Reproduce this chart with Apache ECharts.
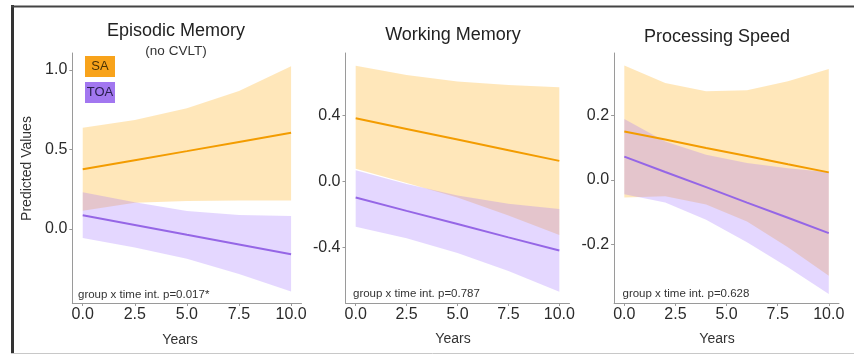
<!DOCTYPE html>
<html>
<head>
<meta charset="utf-8">
<script src="https://cdn.jsdelivr.net/npm/echarts@6/dist/echarts.min.js"></script>
<style>
html,body{margin:0;padding:0;background:#fff;}
#chart{width:854px;height:356px;}
</style>
</head>
<body>
<div id="chart"></div>
<script>
// ---------- data ----------
const panelTitles = ["Episodic Memory", "Working Memory", "Processing Speed"];
const panelSubtitle = "(no CVLT)";
const pValueLabels = ["group x time int. p=0.017*", "group x time int. p=0.787", "group x time int. p=0.628"];
const groups = ["SA", "TOA"];
const xTicks = [0, 2.5, 5, 7.5, 10];
const yTicksEpisodic = [0, 0.5, 1.0];
const yTicksWorking = [-0.4, 0, 0.4];
const yTicksSpeed = [-0.2, 0, 0.2];

// Episodic memory
const yearsEpisodic = [0, 2.5, 5, 7.5, 10];
const episodicSAFit = [0.376, 0.433, 0.490, 0.548, 0.606];
const episodicSAUpper = [0.637, 0.686, 0.760, 0.868, 1.024];
const episodicSALower = [0.115, 0.165, 0.176, 0.180, 0.180];
const episodicTOAFit = [0.087, 0.026, -0.036, -0.097, -0.159];
const episodicTOAUpper = [0.231, 0.168, 0.114, 0.088, 0.082];
const episodicTOALower = [-0.057, -0.116, -0.186, -0.282, -0.392];

// Working memory
const yearsWorking = [0, 2.5, 5, 7.5, 10];
const workingSAFit = [0.384, 0.319, 0.255, 0.190, 0.125];
const workingSAUpper = [0.704, 0.647, 0.607, 0.587, 0.573];
const workingSALower = [0.078, -0.009, -0.097, -0.207, -0.325];
const workingTOAFit = [-0.098, -0.179, -0.259, -0.340, -0.420];
const workingTOAUpper = [0.068, -0.015, -0.085, -0.135, -0.168];
const workingTOALower = [-0.275, -0.345, -0.435, -0.545, -0.670];

// Processing speed
const yearsSpeed = [0, 2, 4, 6, 8, 10];
const speedSAFit = [0.151, 0.126, 0.100, 0.075, 0.049, 0.024];
const speedSAUpper = [0.356, 0.302, 0.276, 0.279, 0.307, 0.345];
const speedSALower = [-0.054, -0.050, -0.076, -0.129, -0.209, -0.297];
const speedTOAFit = [0.073, 0.025, -0.022, -0.070, -0.117, -0.165];
const speedTOAUpper = [0.190, 0.120, 0.079, 0.053, 0.037, 0.024];
const speedTOALower = [-0.044, -0.070, -0.123, -0.193, -0.271, -0.354];

// ---------- styling ----------
const FONT = "'Liberation Sans', Arial, Helvetica, sans-serif";
const SA_LINE = '#F39C00';
const TOA_LINE = '#9566E6';
const SA_FILL = 'rgba(255,165,0,0.27)';
const TOA_FILL = 'rgba(157,107,255,0.27)';
const AXIS_COLOR = '#9a9a9a';
const TEXT_COLOR = '#2b2b2b';

const panels = [
  {years: yearsEpisodic, sa: [episodicSAFit, episodicSALower, episodicSAUpper], toa: [episodicTOAFit, episodicTOALower, episodicTOAUpper],
   yTicks: yTicksEpisodic, yMin: -0.465, yMax: 1.107, grid: {left: 72.3, top: 53, width: 229.2, height: 250}},
  {years: yearsWorking, sa: [workingSAFit, workingSALower, workingSAUpper], toa: [workingTOAFit, workingTOALower, workingTOAUpper],
   yTicks: yTicksWorking, yMin: -0.739, yMax: 0.781, grid: {left: 345.5, top: 53, width: 224, height: 250}},
  {years: yearsSpeed, sa: [speedSAFit, speedSALower, speedSAUpper], toa: [speedTOAFit, speedTOALower, speedTOAUpper],
   yTicks: yTicksSpeed, yMin: -0.382, yMax: 0.395, grid: {left: 614.1, top: 53, width: 224.9, height: 250}}
];

const grids = [], xAxes = [], yAxes = [], series = [];

function ribbonSeries(idx, xs, lower, upper, fill) {
  return {
    type: 'custom',
    xAxisIndex: idx, yAxisIndex: idx,
    silent: true,
    data: [[xs[0], lower[0]]],
    renderItem: function (params, api) {
      const pts = [];
      for (let i = 0; i < xs.length; i++) pts.push(api.coord([xs[i], upper[i]]));
      for (let i = xs.length - 1; i >= 0; i--) pts.push(api.coord([xs[i], lower[i]]));
      return {type: 'polygon', shape: {points: pts}, style: {fill: fill, stroke: null}};
    },
    z: 1
  };
}

function lineSeries(idx, xs, ys, color) {
  return {
    type: 'line', xAxisIndex: idx, yAxisIndex: idx,
    data: xs.map((x, i) => [x, ys[i]]),
    symbol: 'none', silent: true,
    lineStyle: {color: color, width: 2},
    z: 3
  };
}

panels.forEach((p, i) => {
  grids.push(Object.assign({containLabel: false}, p.grid));
  xAxes.push({
    type: 'value', gridIndex: i, min: -0.5, max: 10.5,
    splitLine: {show: false},
    axisLine: {show: true, onZero: false, lineStyle: {color: AXIS_COLOR, width: 1}},
    axisTick: {show: true, length: 3, customValues: xTicks, lineStyle: {color: AXIS_COLOR}},
    axisLabel: {show: true, customValues: xTicks, formatter: v => v.toFixed(1), margin: 4,
      fontSize: 16, fontFamily: FONT, color: TEXT_COLOR}
  });
  yAxes.push({
    type: 'value', gridIndex: i, min: p.yMin, max: p.yMax,
    splitLine: {show: false},
    axisLine: {show: true, onZero: false, lineStyle: {color: AXIS_COLOR, width: 1}},
    axisTick: {show: true, length: 3, customValues: p.yTicks, lineStyle: {color: AXIS_COLOR}},
    axisLabel: {show: true, customValues: p.yTicks, formatter: v => v.toFixed(1), margin: 5,
      fontSize: 16, fontFamily: FONT, color: TEXT_COLOR}
  });
  series.push(ribbonSeries(i, p.years, p.sa[1], p.sa[2], SA_FILL));
  series.push(ribbonSeries(i, p.years, p.toa[1], p.toa[2], TOA_FILL));
  series.push(lineSeries(i, p.years, p.sa[0], SA_LINE));
  series.push(lineSeries(i, p.years, p.toa[0], TOA_LINE));
});

function txt(x, y, text, size, color, extra) {
  return Object.assign({
    type: 'text', x: x, y: y, silent: true,
    style: {text: text, x: 0, y: 0, font: size + 'px ' + FONT, fill: color,
      textAlign: 'center', textVerticalAlign: 'middle'}
  }, extra || {});
}

const graphics = [
  // frame
  {type: 'line', shape: {x1: 12.5, y1: 5, x2: 12.5, y2: 354}, style: {stroke: '#333', lineWidth: 3}},
  {type: 'line', shape: {x1: 11, y1: 6.5, x2: 854, y2: 6.5}, style: {stroke: '#444', lineWidth: 2}},
  {type: 'line', shape: {x1: 11, y1: 353.5, x2: 854, y2: 353.5}, style: {stroke: '#c8c8c8', lineWidth: 1}},
  // titles
  txt(176, 31, panelTitles[0], 18, '#222'),
  txt(176, 51.5, panelSubtitle, 13.5, '#333'),
  txt(453, 35, panelTitles[1], 18, '#222'),
  txt(717, 37, panelTitles[2], 18, '#222'),
  // axis titles
  txt(27, 168.5, 'Predicted Values', 14, '#333', {rotation: Math.PI / 2}),
  txt(180, 340, 'Years', 14, '#333'),
  txt(453, 339, 'Years', 14, '#333'),
  txt(717, 339, 'Years', 14, '#333'),
  // annotations
  {type: 'text', x: 78, y: 295, silent: true, style: {text: pValueLabels[0], font: '11.5px ' + FONT, fill: '#333', textAlign: 'left', textVerticalAlign: 'middle'}},
  {type: 'text', x: 353, y: 293.5, silent: true, style: {text: pValueLabels[1], font: '11.5px ' + FONT, fill: '#333', textAlign: 'left', textVerticalAlign: 'middle'}},
  {type: 'text', x: 622.5, y: 293.5, silent: true, style: {text: pValueLabels[2], font: '11.5px ' + FONT, fill: '#333', textAlign: 'left', textVerticalAlign: 'middle'}},
  // legend keys
  {type: 'rect', shape: {x: 85, y: 56, width: 30, height: 21}, style: {fill: '#F8A31B'}},
  {type: 'rect', shape: {x: 85, y: 82, width: 30, height: 21}, style: {fill: '#A277F0'}},
  txt(100, 66.5, groups[0], 13, '#4a3205'),
  txt(100, 92.5, groups[1], 13, '#2a2050')
];

const chart = echarts.init(document.getElementById('chart'), null, {renderer: 'canvas'});
chart.setOption({
  animation: false,
  backgroundColor: '#ffffff',
  grid: grids, xAxis: xAxes, yAxis: yAxes, series: series,
  graphic: {elements: graphics}
});
</script>
</body>
</html>
